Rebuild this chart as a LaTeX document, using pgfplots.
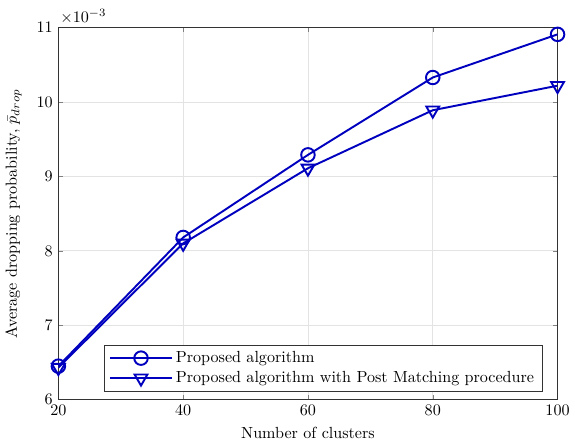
\documentclass[border=0pt]{standalone}
\usepackage{pgfplots}
\pgfplotsset{compat=1.18}
\definecolor{lineblue}{rgb}{0,0,0.75}
\begin{document}
\begin{tikzpicture}
\begin{axis}[
  width=310pt, height=231pt, scale only axis,
  xmin=20, xmax=100, ymin=0.006, ymax=0.011,
  xtick={20,40,60,80,100},
  ytick={0.006,0.007,0.008,0.009,0.010,0.011},
  scaled y ticks=base 10:3,
  ytick scale label code/.code={$\times 10^{-3}$},
  every y tick scale label/.style={at={(rel axis cs:0,1)}, anchor=south west, inner sep=1pt, yshift=1pt},
  tick align=inside, tick pos=both,
  major tick length=3pt,
  grid=major,
  major grid style={draw=gray!22, line width=0.5pt},
  axis line style={draw=black!80, line width=0.5pt},
  xlabel={Number of clusters},
  ylabel={Average dropping probability, $\bar{p}_{drop}$},
  ylabel style={yshift=2.5pt},
  legend style={at={(rel axis cs:0.97,0.021)}, anchor=south east,
    draw=black!80, line width=0.5pt, font=\normalsize, cells={anchor=west},
    inner xsep=3pt, inner ysep=2pt},
  legend cell align=left,
  legend image code/.code={
    \draw[mark repeat=2, mark phase=2, #1] plot coordinates {(0cm,0cm) (0.67cm,0cm) (1.34cm,0cm)};
  },
]
\addplot[color=lineblue, line width=1.2pt, mark=o, mark size=4.2pt]
  coordinates {(20,0.00645) (40,0.00818) (60,0.00929) (80,0.01033) (100,0.01091)};
\addlegendentry{Proposed algorithm}
\addplot[color=lineblue, line width=1.2pt, mark=triangle, mark size=4.6pt,
  mark options={rotate=180}]
  coordinates {(20,0.00643) (40,0.00810) (60,0.00911) (80,0.00989) (100,0.01022)};
\addlegendentry{Proposed algorithm with Post Matching procedure}
\end{axis}
% a little headroom above the exponent label
\path ([yshift=5pt]current bounding box.north);
\end{tikzpicture}
\end{document}
